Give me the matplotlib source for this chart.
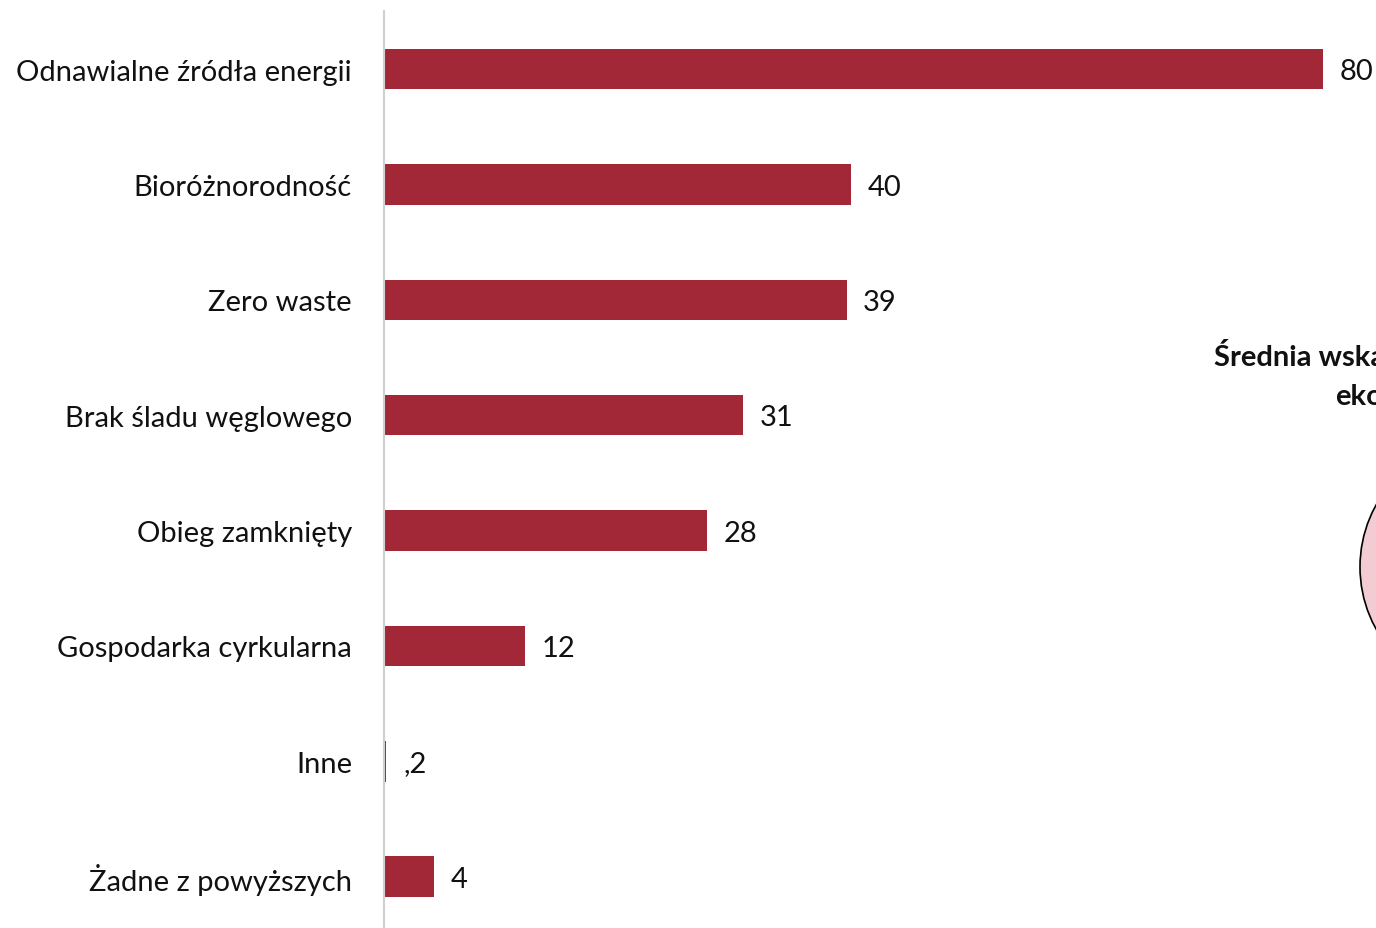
import matplotlib
matplotlib.use("Agg")
import matplotlib.pyplot as plt
from matplotlib.patches import Circle

categories = ["Odnawialne źródła energii", "Bioróżnorodność", "Zero waste",
              "Brak śladu węglowego", "Obieg zamknięty", "Gospodarka cyrkularna",
              "Inne", "Żadne z powyższych"]
values = [80, 39.8, 39.4, 30.6, 27.5, 12.0, 0.2, 4.3]
value_labels = ["80", "40", "39", "31", "28", "12", ",2", "4"]
side_title = ["Średnia wskazań", "ekologicznych"]

plt.rcParams['font.family'] = ['Lato', 'DejaVu Sans']

W, H = 1376, 929
fig = plt.figure(figsize=(W / 100, H / 100), dpi=100)
ax = fig.add_axes([384 / W, 0, 1 - 384 / W, 1 - 12 / H])

bar_color = "#A22838"
y = list(range(len(categories)))
ax.barh(y, values, height=0.35, color=bar_color)
ax.set_xlim(0, (W - 384) / 11.74)
ax.set_ylim(7.445, -0.505)

for yi, v, lab in zip(y, values, value_labels):
    ax.annotate(lab, (v, yi), xytext=(12, -1.5), textcoords="offset points",
                ha="left", va="center", fontsize=21, color="#111111")

ax.set_yticks(y)
ax.set_yticklabels(categories, fontsize=21, color="#111111")
ax.tick_params(axis="y", length=0, pad=23)
ax.set_xticks([])
for s in ["top", "right", "bottom"]:
    ax.spines[s].set_visible(False)
ax.spines["left"].set_color("#D0D0D0")
ax.spines["left"].set_linewidth(1.5)

fig.text(1214 / W, 1 - 358 / H, side_title[0], fontsize=21, fontweight="bold",
         ha="left", va="center", color="#111111")
fig.text(1335 / W, 1 - 397 / H, side_title[1], fontsize=21, fontweight="bold",
         ha="left", va="center", color="#111111")

circ = Circle((1488, H - 568), 128, transform=None, facecolor="#F2CCD2",
              edgecolor="black", linewidth=1.2)
fig.add_artist(circ)

fig.savefig("out.png", dpi=100)
